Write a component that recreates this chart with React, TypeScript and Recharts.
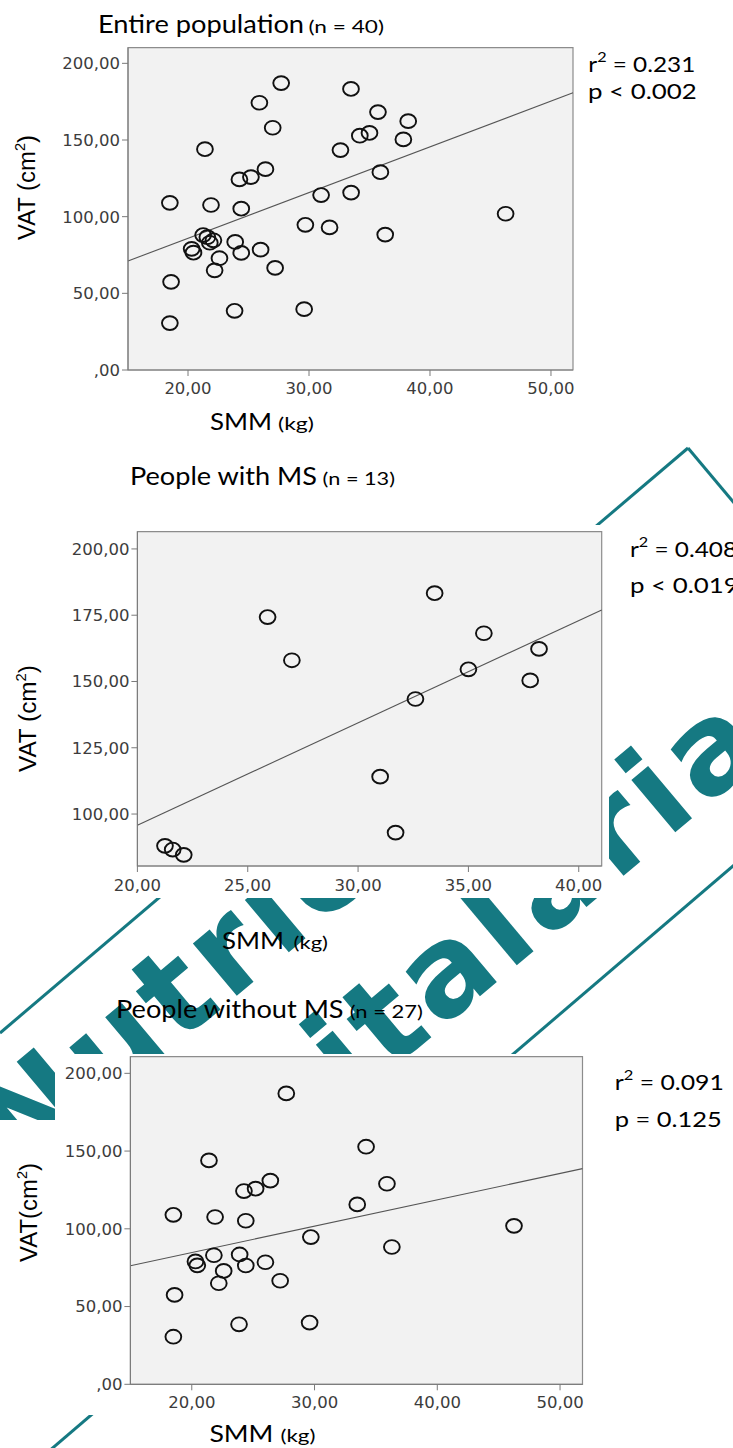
import React from "react";
import {
  ScatterChart,
  Scatter,
  XAxis,
  YAxis,
  CartesianGrid,
  ReferenceLine,
  ReferenceArea,
} from "recharts";

// ---- Data ----
// People without MS (n = 27)
const nonMsSmm = [
  18.5, 18.6, 18.5, 21.4, 21.9, 21.8, 20.3, 20.45, 22.6, 22.2, 24.25, 25.2, 26.4, 24.4,
  27.7, 23.9, 24.4, 26.0, 27.2, 23.85, 29.6, 29.7, 33.48, 34.2, 35.9, 36.3, 46.25,
];
const nonMsVat = [
  109, 57.5, 30.6, 144, 107.6, 83, 79, 76.5, 72.9, 65, 124.3, 125.8, 131, 105.2,
  187.1, 83.5, 76.4, 78.5, 66.6, 38.6, 39.7, 94.7, 115.7, 152.8, 129, 88.3, 101.9,
];
// People with MS (n = 13)
const msSmm = [21.25, 21.6, 22.1, 25.9, 27.0, 31.0, 31.7, 32.6, 33.47, 35.0, 35.7, 37.8, 38.2];
const msVat = [88, 86.6, 84.6, 174.3, 158, 114.1, 93, 143.4, 183.3, 154.6, 168.2, 150.4, 162.3];

// Fitted regression lines (end points)
const fitEntireSmm = [15.04, 51.82];
const fitEntireVat = [71.1, 180.8];
const fitMsSmm = [20, 41.04];
const fitMsVat = [95.8, 177.0];
const fitNonMsSmm = [15.0, 51.83];
const fitNonMsVat = [76.3, 138.7];

// Tick values
const xTicksWide = [20, 30, 40, 50];
const xTicksMs = [20, 25, 30, 35, 40];
const yTicksWide = [0, 50, 100, 150, 200];
const yTicksMs = [100, 125, 150, 175, 200];

type Pt = { smm: number; vat: number };
const zip = (xs: number[], ys: number[]): Pt[] => xs.map((x, i) => ({ smm: x, vat: ys[i] }));

const nonMsData = zip(nonMsSmm, nonMsVat);
const msData = zip(msSmm, msVat);
const entireData = [...nonMsData, ...msData];

const fmt = (v: number) => (v === 0 ? ",00" : v.toFixed(2).replace(".", ","));

const TEAL = "#157982";
const CAL = "Lato, 'Open Sans', sans-serif";
const ARIAL = "'Liberation Sans', Arial, sans-serif";

const Ring = (props: any) => {
  const { cx, cy } = props;
  if (cx == null || cy == null) return null;
  return <ellipse cx={cx} cy={cy} rx={7.9} ry={6.9} fill="none" stroke="#111" strokeWidth={1.9} />;
};

type PanelProps = {
  top: number;
  height: number;
  pl: number;
  pr: number;
  pt: number;
  pb: number;
  xDomain: [number, number];
  yDomain: [number, number];
  xTicks: number[];
  yTicks: number[];
  data: Pt[];
  fitX: number[];
  fitY: number[];
  xTickMargin: number;
};

function Panel(p: PanelProps) {
  const xAxisH = 30;
  const margin = {
    top: p.pt - p.top,
    right: 733 - p.pr,
    bottom: p.top + p.height - p.pb - xAxisH,
    left: 0,
  };
  const tickStyle = { fill: "#3c3c3c", fontSize: 16.5, fontFamily: "'DejaVu Sans', Verdana, sans-serif" };
  const seg = [
    { x: p.fitX[0], y: p.fitY[0] },
    { x: p.fitX[1], y: p.fitY[1] },
  ];
  return (
    <div style={{ position: "absolute", left: 0, top: p.top, width: 733, height: p.height }}>
      <ScatterChart width={733} height={p.height} margin={margin}>
        <CartesianGrid fill="#f2f2f2" horizontal={false} vertical={false} stroke="none" />
        <XAxis
          type="number"
          dataKey="smm"
          domain={p.xDomain}
          ticks={p.xTicks}
          allowDataOverflow
          interval={0}
          tickFormatter={fmt}
          height={xAxisH}
          tickSize={6}
          tickMargin={p.xTickMargin}
          stroke="#7a7a7a"
          tick={tickStyle}
        />
        <YAxis
          type="number"
          dataKey="vat"
          domain={p.yDomain}
          ticks={p.yTicks}
          allowDataOverflow
          interval={0}
          tickFormatter={fmt}
          width={p.pl}
          tickSize={6}
          tickMargin={2}
          stroke="#7a7a7a"
          tick={tickStyle}
        />
        <ReferenceArea
          x1={p.xDomain[0]}
          x2={p.xDomain[1]}
          y1={p.yDomain[0]}
          y2={p.yDomain[1]}
          fill="none"
          fillOpacity={0}
          stroke="#8c8c8c"
          strokeWidth={1.2}
          ifOverflow="visible"
        />
        <ReferenceLine segment={seg} stroke="#555" strokeWidth={1.1} ifOverflow="visible" />
        <Scatter data={p.data} shape={Ring} isAnimationActive={false} />
      </ScatterChart>
    </div>
  );
}

function Sup({ x, y, size, supSize, lift, base, sup, rest, width }: any) {
  return (
    <text x={x} y={y} fontFamily={CAL} fontSize={size} fill="#000" textLength={width} lengthAdjust="spacingAndGlyphs">
      {base}
      <tspan fontSize={supSize} dy={-lift}>
        {sup}
      </tspan>
      <tspan dy={lift}>{rest}</tspan>
    </text>
  );
}

function VatLabel({ x, cy, text, width }: any) {
  return (
    <text
      transform={`translate(${x},${cy}) rotate(-90)`}
      textAnchor="middle"
      fontFamily={ARIAL}
      fontSize={23}
      fill="#000"
      textLength={width}
      lengthAdjust="spacingAndGlyphs"
    >
      {text}
      <tspan fontSize={14} dy={-10}>
        2
      </tspan>
      <tspan dy={10}>)</tspan>
    </text>
  );
}

function Title({ x, y, main, mainW, sub, subX, subW, size = 25.5, subSize = 17 }: any) {
  return (
    <g>
      <text x={x} y={y} fontFamily={CAL} fontSize={size} fill="#000" textLength={mainW} lengthAdjust="spacingAndGlyphs">
        {main}
      </text>
      <text x={subX} y={y} fontFamily={CAL} fontSize={subSize} fill="#000" textLength={subW} lengthAdjust="spacingAndGlyphs">
        {sub}
      </text>
    </g>
  );
}

export default function App() {
  return (
    <div
      style={{
        position: "absolute",
        left: 0,
        top: 0,
        width: 733,
        height: 1448,
        overflow: "hidden",
        background: "#fff",
      }}
    >
      {/* watermark */}
      <svg width={733} height={1448} style={{ position: "absolute", left: 0, top: 0 }}>
        <rect width={733} height={1448} fill="#fff" />
        <g stroke={TEAL} strokeWidth={3} fill="none">
          <line x1={0} y1={1033} x2={688} y2={448} />
          <line x1={688} y1={448} x2={745} y2={516} />
          <line x1={0} y1={1493} x2={760} y2={843} />
        </g>
        <g fontFamily="'DejaVu Sans', sans-serif" fontWeight="bold" fontSize={125} fill={TEAL} letterSpacing={6}>
          <text x={21} y={1177} transform="rotate(-40 21 1177)">
            Nutrición
          </text>
          <text x={62} y={1347} transform="rotate(-40 62 1347)">
            Hospitalaria
          </text>
        </g>
        <rect x={0} y={525} width={609} height={373} fill="#fff" />
        <rect x={55} y={1054} width={528} height={361} fill="#fff" />
        <rect x={0} y={1120} width={60} height={295} fill="#fff" />
      </svg>

      <Panel
        top={0}
        height={400}
        pl={128}
        pr={573}
        pt={47.7}
        pb={370}
        xDomain={[15.04, 51.82]}
        yDomain={[0, 210.2]}
        xTicks={xTicksWide}
        yTicks={yTicksWide}
        data={entireData}
        fitX={fitEntireSmm}
        fitY={fitEntireVat}
        xTickMargin={6}
      />
      <Panel
        top={500}
        height={400}
        pl={137.4}
        pr={601.7}
        pt={531.7}
        pb={866}
        xDomain={[20, 41.04]}
        yDomain={[80.4, 206.5]}
        xTicks={xTicksMs}
        yTicks={yTicksMs}
        data={msData}
        fitX={fitMsSmm}
        fitY={fitMsVat}
        xTickMargin={7}
      />
      <Panel
        top={1030}
        height={418}
        pl={130.4}
        pr={582.5}
        pt={1056.7}
        pb={1384.3}
        xDomain={[15.0, 51.83]}
        yDomain={[0, 210.7]}
        xTicks={xTicksWide}
        yTicks={yTicksWide}
        data={nonMsData}
        fitX={fitNonMsSmm}
        fitY={fitNonMsVat}
        xTickMargin={6}
      />

      {/* text overlay */}
      <svg width={733} height={1448} style={{ position: "absolute", left: 0, top: 0, pointerEvents: "none" }}>
        <Title x={98} y={33.3} main="Entire population" mainW={206} sub="(n = 40)" subX={308.5} subW={75.5} />
        <Title x={130} y={485} main="People with MS" mainW={187} sub="(n = 13)" subX={322.6} subW={72.4} />
        <Title x={116} y={1018.3} main="People without MS" mainW={227.6} sub="(n = 27)" subX={349.7} subW={73.3} />

        <Title x={210} y={430} main="SMM" mainW={62} sub="(kg)" subX={278} subW={36} size={23.5} />
        <Title x={222} y={949} main="SMM" mainW={62} sub="(kg)" subX={293.6} subW={34.4} size={23.5} />
        <Title x={209.4} y={1442} main="SMM" mainW={64} sub="(kg)" subX={280.5} subW={35} size={23.5} />

        <VatLabel x={35} cy={187.5} text="VAT (cm" width={105} />
        <VatLabel x={36} cy={718.5} text="VAT (cm" width={107} />
        <VatLabel x={36.5} cy={1212.5} text="VAT(cm" width={99} />

        <Sup x={588.3} y={71.7} size={21} supSize={14} lift={10} base="r" sup="2" rest=" = 0.231" width={107} />
        <text x={588} y={99.3} fontFamily={CAL} fontSize={21} textLength={108.7} lengthAdjust="spacingAndGlyphs">
          p &lt; 0.002
        </text>
        <Sup x={630} y={556.7} size={21} supSize={14} lift={10} base="r" sup="2" rest=" = 0.408" width={107} />
        <text x={630} y={593.3} fontFamily={CAL} fontSize={21} textLength={108.7} lengthAdjust="spacingAndGlyphs">
          p &lt; 0.019
        </text>
        <Sup x={614.8} y={1090} size={21} supSize={14} lift={10} base="r" sup="2" rest=" = 0.091" width={109} />
        <text x={614.8} y={1126.7} fontFamily={CAL} fontSize={21} textLength={107} lengthAdjust="spacingAndGlyphs">
          p = 0.125
        </text>
      </svg>
    </div>
  );
}
